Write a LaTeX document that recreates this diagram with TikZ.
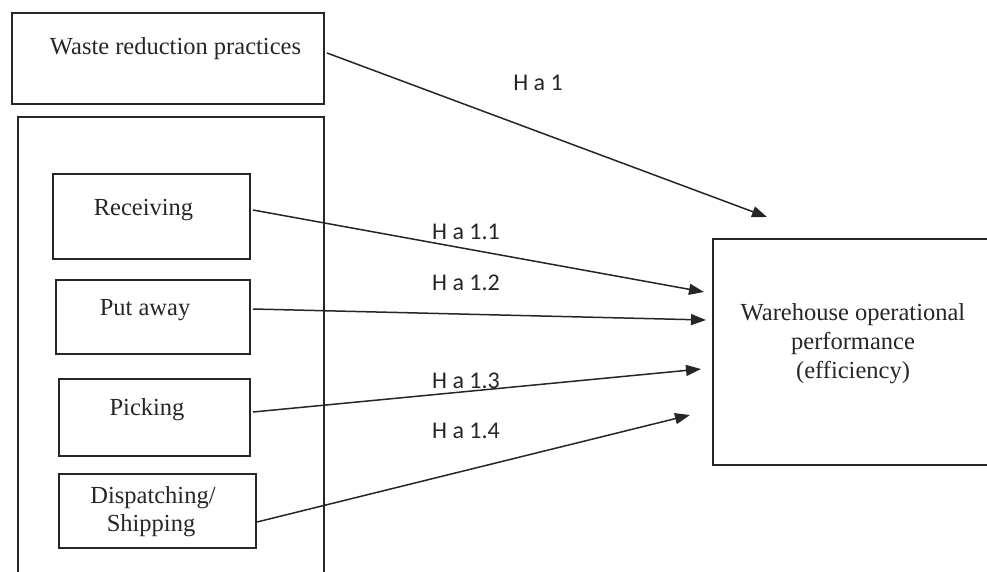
\documentclass[tikz,border=0pt]{standalone}
\usepackage{fontspec}
\setmainfont{Liberation Serif}
\newfontfamily\lblfont{Carlito}
\usetikzlibrary{arrows.meta}
\definecolor{ink}{HTML}{262626}
\begin{document}
\begin{tikzpicture}[x=1pt,y=-1pt,
  box/.style={draw=ink,line width=1.6pt,rectangle,inner sep=0pt,anchor=north west},
  txt/.style={text=ink,font=\fontsize{24.5}{29}\selectfont,anchor=base,inner sep=0pt},
  lbl/.style={text=ink,font=\lblfont\fontsize{24}{28}\selectfont,anchor=base,inner sep=0pt},
  conn/.style={draw=ink,line width=1.5pt,-{Triangle[length=15pt,width=11pt]}}]
\useasboundingbox[fill=white] (0,0) rectangle (987,572);
% boxes
\node[box,minimum width=312pt,minimum height=91pt] (waste) at (11,12) {};
\node[box,minimum width=197pt,minimum height=85pt] (recv) at (52,173) {};
\node[box,minimum width=194pt,minimum height=74pt] (put) at (55,279) {};
\node[box,minimum width=191pt,minimum height=77pt] (pick) at (58,378) {};
\node[box,minimum width=197pt,minimum height=74pt] (disp) at (58,473) {};
% open-ended frames
\draw[draw=ink,line width=1.6pt] (18,580) -- (18,117) -- (324,117) -- (324,580);
\draw[draw=ink,line width=1.6pt] (995,239) -- (713,239) -- (713,465) -- (995,465);
% texts
\node[txt] (twaste) at (175.5,55) {Waste reduction practices};
\node[txt] (trecv) at (143.5,215) {Receiving};
\node[txt] (tput) at (145,315) {Put away};
\node[txt] (tpick) at (147,415) {Picking};
\node[txt] (tdisp1) at (153,503) {Dispatching/};
\node[txt] (tdisp2) at (151,531) {Shipping};
\node[txt] (tw1) at (853,320) {Warehouse operational};
\node[txt] (tw2) at (853,349) {performance};
\node[txt] (tw3) at (853,378) {(efficiency)};
% labels
\node[lbl] (h1) at (538,91) {H a 1};
\node[lbl] (h11) at (466,239) {H a 1.1};
\node[lbl] (h12) at (466,290) {H a 1.2};
\node[lbl] (h13) at (466,388) {H a 1.3};
\node[lbl] (h14) at (466,438) {H a 1.4};
% connector ends
\coordinate (s0) at (327,53);
\coordinate (e0) at (767,217);
\coordinate (s1) at (253,210);
\coordinate (e1) at (704,292);
\coordinate (s2) at (253,309);
\coordinate (e2) at (706,320);
\coordinate (s3) at (253,412);
\coordinate (e3) at (701,369);
\coordinate (s4) at (257,522);
\coordinate (e4) at (690,415);
\draw[conn] (s0) -- (e0);
\draw[conn] (s1) -- (e1);
\draw[conn] (s2) -- (e2);
\draw[conn] (s3) -- (e3);
\draw[conn] (s4) -- (e4);
\end{tikzpicture}
\end{document}
